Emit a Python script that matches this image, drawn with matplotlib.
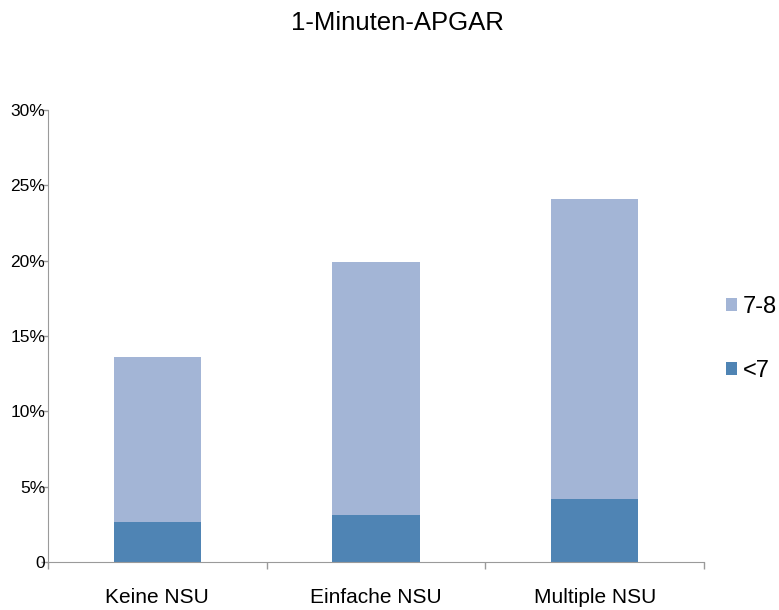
import numpy as np
import matplotlib.pyplot as plt
from matplotlib.ticker import FuncFormatter

plt.rcParams['font.family'] = ['Liberation Sans', 'DejaVu Sans']

# data (percent)
categories = ["Keine NSU", "Einfache NSU", "Multiple NSU"]
under7 = [2.68, 3.10, 4.20]
score78 = [10.92, 16.80, 19.90]
series_names = ["<7", "7-8"]

DARK = "#4f84b4"
LIGHT = "#a3b5d6"
AXIS_GREY = "#9a9a9a"

W, H = 779, 610
fig = plt.figure(figsize=(W / 100, H / 100), dpi=100)
ax = fig.add_axes([48 / W, (H - 562) / H, (704 - 48) / W, (562 - 110) / H])

x = np.arange(len(categories))
b1 = ax.bar(x, under7, width=0.4, color=DARK, label=series_names[0])
b2 = ax.bar(x, score78, width=0.4, bottom=under7, color=LIGHT, label=series_names[1])

ax.set_xlim(-0.5, len(categories) - 0.5)
ax.set_ylim(0, 30)
ax.set_yticks(np.arange(0, 31, 5))
ax.yaxis.set_major_formatter(FuncFormatter(lambda v, p: "0" if v == 0 else "%d%%" % v))

# category labels centred, tick marks on the category borders
ax.set_xticks(x)
ax.set_xticklabels(categories, fontsize=15)
ax.set_xticks(np.arange(-0.5, len(categories), 1), minor=True)
ax.tick_params(axis="x", which="major", length=0, pad=19)
ax.tick_params(axis="x", which="minor", length=5, color=AXIS_GREY, width=1)
ax.tick_params(axis="y", length=5, color=AXIS_GREY, width=1, labelsize=12.5, pad=-3)

for s in ["top", "right"]:
    ax.spines[s].set_visible(False)
for s in ["left", "bottom"]:
    ax.spines[s].set_color(AXIS_GREY)

fig.text(397 / W, 1 - 23 / H, "1-Minuten-APGAR", fontsize=18.5, ha="center", va="center")

ax.legend(handles=[b2, b1], labels=["7-8", "<7"], loc="center left",
          bbox_to_anchor=(705 / W, 1 - 339 / H), bbox_transform=fig.transFigure,
          frameon=False, fontsize=17,
          handlelength=0.47, handleheight=0.47, handletextpad=0.25, labelspacing=1.75)

fig.savefig("out.png", dpi=100)
